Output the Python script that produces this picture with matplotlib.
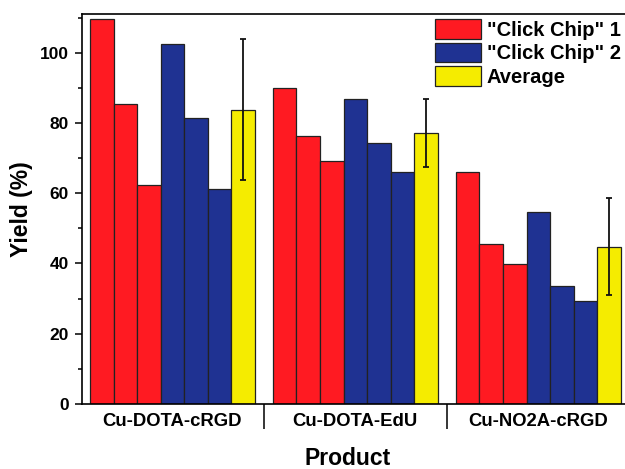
import numpy as np
import matplotlib
matplotlib.use("Agg")
import matplotlib.pyplot as plt

# Dados
produtos = ['Cu-DOTA-cRGD', 'Cu-DOTA-EdU', 'Cu-NO2A-cRGD']
chip1 = [[109.6, 85.3, 62.4], [90.0, 76.3, 69.3], [65.9, 45.5, 39.9]]
chip2 = [[102.5, 81.5, 61.2], [86.8, 74.4, 66.0], [54.7, 33.7, 29.3]]
media = [83.8, 77.1, 44.8]
erro = [20.0, 9.6, 13.8]

cor_vermelho = '#FF1A22'
cor_azul = '#1F3292'
cor_amarelo = '#F5EC00'
cor_borda = '#222222'

plt.rcParams['font.family'] = ['Liberation Sans', 'DejaVu Sans']
plt.rcParams['font.weight'] = 'bold'

fig = plt.figure(figsize=(6.25, 4.69), dpi=100)
# o eixo passa da borda direita, como no original (recortado)
ax = fig.add_axes([81.7 / 625, 65 / 469, 547.3 / 625, 390 / 469])

passo = 7.767
for g in range(len(produtos)):
    x0 = g * passo
    for i, v in enumerate(chip1[g]):
        ax.bar(x0 + i + 0.5, v, width=1, color=cor_vermelho, edgecolor=cor_borda, linewidth=0.9,
               label='"Click Chip" 1' if (g == 0 and i == 0) else None)
    for i, v in enumerate(chip2[g]):
        ax.bar(x0 + 3 + i + 0.5, v, width=1, color=cor_azul, edgecolor=cor_borda, linewidth=0.9,
               label='"Click Chip" 2' if (g == 0 and i == 0) else None)
    ax.bar(x0 + 6.5, media[g], width=1, color=cor_amarelo, edgecolor=cor_borda, linewidth=0.9,
           label='Average' if g == 0 else None)
    ax.errorbar(x0 + 6.5, media[g], yerr=erro[g], fmt='none', ecolor='#111111',
                elinewidth=1.3, capsize=2.3, capthick=1.3)

ax.set_xlim(-0.352, 2 * passo + 7 + 0.352)
ax.set_ylim(0, 111)

# ticks do eixo y
ax.set_yticks([0, 20, 40, 60, 80, 100])
ax.set_yticks([10, 30, 50, 70, 90, 110], minor=True)
ax.tick_params(axis='y', which='major', direction='out', length=5, width=1.1, labelsize=12.5, pad=4.5)
ax.tick_params(axis='y', which='minor', direction='out', length=2.7, width=1.1)

# separadores entre grupos e nomes dos produtos
separadores = [7 + (passo - 7) / 2, passo + 7 + (passo - 7) / 2]
ax.set_xticks(separadores)
ax.set_xticklabels([])
ax.tick_params(axis='x', which='major', direction='out', length=18, width=1.1)
centros = [g * passo + 3.5 for g in range(len(produtos))]
ax.set_xticks(centros, minor=True)
ax.set_xticklabels(produtos, minor=True, fontsize=13.3)
ax.tick_params(axis='x', which='minor', length=0, pad=6.5)

for s in ['left', 'bottom', 'top', 'right']:
    ax.spines[s].set_linewidth(1.2)

ax.set_ylabel('Yield (%)', fontsize=16.5, fontweight='bold')
ax.yaxis.set_label_coords(-0.0885, 0.5)
ax.set_xlabel('Product', fontsize=16.5, fontweight='bold')
ax.xaxis.set_label_coords(0.4866, -0.109)

# legenda sem moldura, encostada na borda direita
ax.legend(loc='upper left', bbox_to_anchor=(435 / 625, 1 - 19 / 469), bbox_transform=fig.transFigure,
          frameon=False, fontsize=14.5, borderpad=0, borderaxespad=0,
          handlelength=2.29, handleheight=1.13, handletextpad=0.28, labelspacing=0.15)

plt.savefig('out.png', dpi=100)
